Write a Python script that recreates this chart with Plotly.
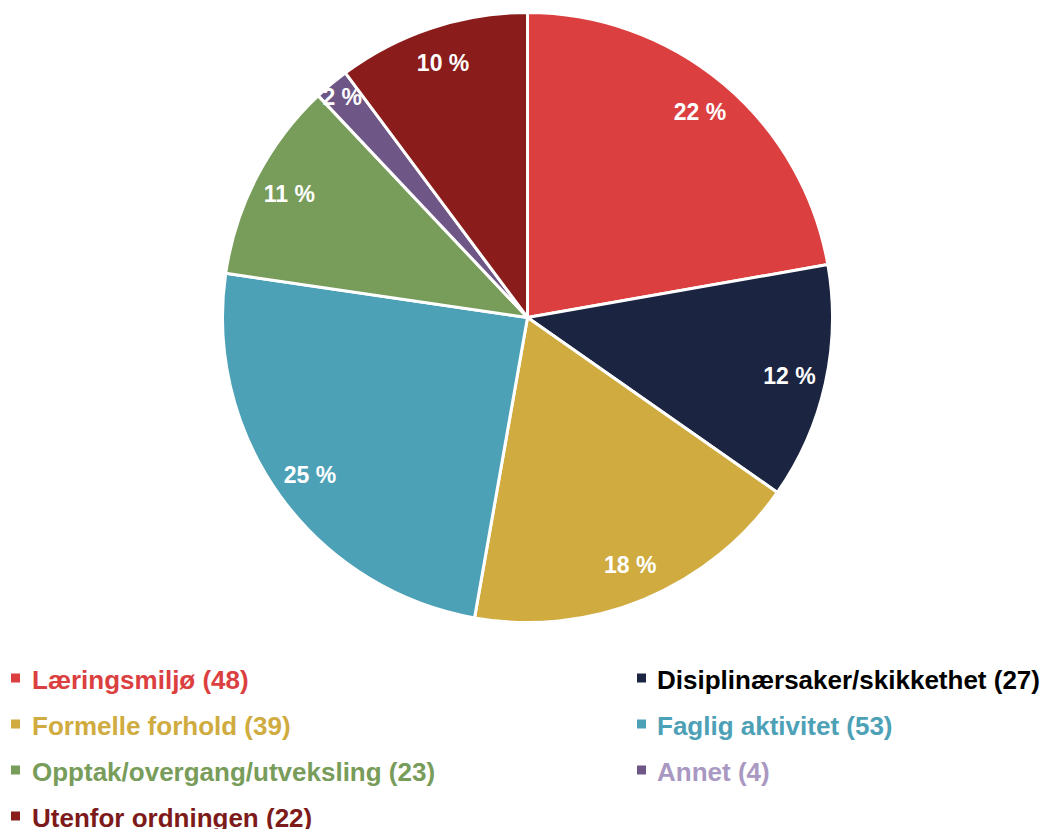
import plotly.graph_objects as go

categories = ["Læringsmiljø", "Disiplinærsaker/skikkethet", "Formelle forhold",
              "Faglig aktivitet", "Opptak/overgang/utveksling", "Annet", "Utenfor ordningen"]
counts = [48, 27, 39, 53, 23, 4, 22]
pct_labels = ["22 %", "12 %", "18 %", "25 %", "11 %", "2 %", "10 %"]
slice_colors = ["#DB3F3F", "#1B2542", "#CFAB40", "#4DA1B7", "#789C5A", "#6E5686", "#8B1C1C"]
legend_text_colors = ["#DB3F3F", "#000000", "#CFAB40", "#4DA1B7", "#789C5A", "#A998C2", "#7D1A1A"]

# page body has an 8px margin, so the figure is drawn 8px in from the top-left
OFF = 8
W, H = 1051 - OFF, 829 - OFF
FONT = "Liberation Sans, Arial, sans-serif"

def px_x(x):
    return (x - OFF) / W

def px_y(y):
    return 1 - (y - OFF) / H

pie_domain = dict(x=[px_x(222.5), px_x(832.5)], y=[px_y(622.5), px_y(12.5)])

fig = go.Figure()
# the coloured slices
fig.add_trace(go.Pie(
    labels=categories,
    values=counts,
    textinfo="none",
    marker=dict(colors=slice_colors, line=dict(color="white", width=3)),
    sort=False,
    direction="clockwise",
    rotation=0,
    showlegend=False,
    hoverinfo="label+value+percent",
    domain=pie_domain,
))
# transparent ring on top that carries the percentage labels near the rim
fig.add_trace(go.Pie(
    labels=categories,
    values=counts,
    text=pct_labels,
    texttemplate="%{text}",
    textposition="inside",
    insidetextorientation="horizontal",
    textfont=dict(family=FONT, size=23, color="white", weight="bold"),
    marker=dict(colors=["rgba(0,0,0,0)"] * len(counts), line=dict(width=0)),
    hole=0.76,
    sort=False,
    direction="clockwise",
    rotation=0,
    showlegend=False,
    hoverinfo="skip",
    domain=pie_domain,
))

# custom two-column legend
row_y = [680, 726, 772, 818]
text_x = [30, 655]
sq_x = [11, 637]
sq = 9
annotations = []
shapes = []
for i, (cat, n) in enumerate(zip(categories, counts)):
    r, c = divmod(i, 2)
    annotations.append(dict(
        xref="paper", yref="paper",
        x=px_x(text_x[c]), y=px_y(row_y[r]),
        xanchor="left", yanchor="middle",
        showarrow=False,
        text=f"<b>{cat} ({n})</b>",
        font=dict(family=FONT, size=26, color=legend_text_colors[i]),
    ))
    shapes.append(dict(
        type="rect", xref="paper", yref="paper",
        x0=px_x(sq_x[c]), x1=px_x(sq_x[c] + sq),
        y0=px_y(row_y[r] - 2 + sq / 2), y1=px_y(row_y[r] - 2 - sq / 2),
        fillcolor=slice_colors[i], line=dict(width=0),
    ))

fig.update_layout(
    width=W, height=H,
    margin=dict(l=0, r=0, t=0, b=0),
    paper_bgcolor="white",
    plot_bgcolor="white",
    annotations=annotations,
    shapes=shapes,
    uniformtext=dict(minsize=23, mode="show"),
)

fig.write_html("out.html")
